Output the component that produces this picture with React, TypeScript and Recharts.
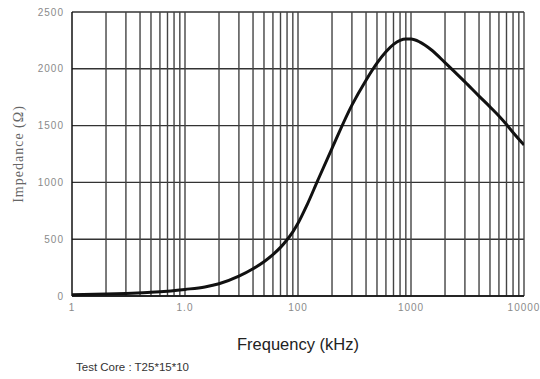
import { LineChart, Line, XAxis, YAxis, CartesianGrid, ReferenceLine } from "recharts"

const frequency = [1, 2, 3, 5, 7, 10, 15, 20, 30, 40, 50, 60, 70, 80, 90, 100, 120, 150, 200, 300, 400, 500, 600, 700, 800, 900, 1000, 1200, 1500, 2000, 3000, 4000, 5000, 6000, 7000, 8000, 10000]
const impedance = [10, 17, 23, 32, 42, 58, 80, 108, 175, 240, 302, 365, 428, 495, 565, 640, 800, 1020, 1300, 1680, 1900, 2050, 2150, 2215, 2250, 2262, 2262, 2235, 2170, 2055, 1885, 1760, 1665, 1585, 1510, 1440, 1330]

const xTicks = [1, 10, 100, 1000, 10000]
const yTicks = [0, 500, 1000, 1500, 2000, 2500]
const gridX = [
  2, 3, 4, 5, 6, 7, 8, 9, 10,
  20, 30, 40, 50, 60, 70, 80, 90, 100,
  200, 300, 400, 500, 600, 700, 800, 900, 1000,
  2000, 3000, 4000, 5000, 6000, 7000, 8000, 9000, 10000,
]

const data = frequency.map((f, i) => ({ f, z: impedance[i] }))

const tickStyle = { fill: "#8a8a8a", fontSize: 10, letterSpacing: 1, fontFamily: "Liberation Sans, Arial, sans-serif" }

export default function App() {
  return (
    <div style={{ position: "absolute", left: 0, top: 0, width: 540, height: 379, background: "#fff" }}>
      <LineChart width={540} height={379} data={data} margin={{ top: 12, right: 16, bottom: 25, left: 0 }}>
        <CartesianGrid vertical={false} stroke="#333" strokeWidth={1.4} />
        {gridX.map((v) => (
          <ReferenceLine key={v} x={v} stroke="#444" strokeWidth={1.4} />
        ))}
        <XAxis
          dataKey="f"
          type="number"
          scale="log"
          domain={[1, 10000]}
          ticks={xTicks}
          tickFormatter={(v) => (v === 10 ? "1.0" : String(v))}
          tickLine={false}
          axisLine={{ stroke: "#111", strokeWidth: 1.5 }}
          tick={tickStyle}
          height={58}
          allowDataOverflow
          label={{
            value: "Frequency (kHz)",
            position: "insideBottom",
            offset: 4,
            style: { fill: "#222", fontSize: 16.5, fontFamily: "Liberation Sans, Arial, sans-serif" },
          }}
        />
        <YAxis
          type="number"
          domain={[0, 2500]}
          ticks={yTicks}
          tickLine={false}
          axisLine={{ stroke: "#111", strokeWidth: 1.5 }}
          tick={tickStyle}
          width={72}
          label={{
            value: "Impedance (Ω)",
            angle: -90,
            position: "insideLeft",
            offset: 18,
            style: { textAnchor: "middle", fill: "#666", fontSize: 14, letterSpacing: 1, fontFamily: "Liberation Serif, Times New Roman, serif" },
          }}
        />
        <Line type="monotone" dataKey="z" stroke="#111" strokeWidth={3} dot={false} isAnimationActive={false} />
      </LineChart>
      <div
        style={{
          position: "absolute",
          left: 76,
          top: 361,
          fontSize: 11.5,
          color: "#333",
          fontFamily: "Liberation Sans, Arial, sans-serif",
          whiteSpace: "nowrap",
        }}
      >
        Test Core : T25*15*10
      </div>
    </div>
  )
}
